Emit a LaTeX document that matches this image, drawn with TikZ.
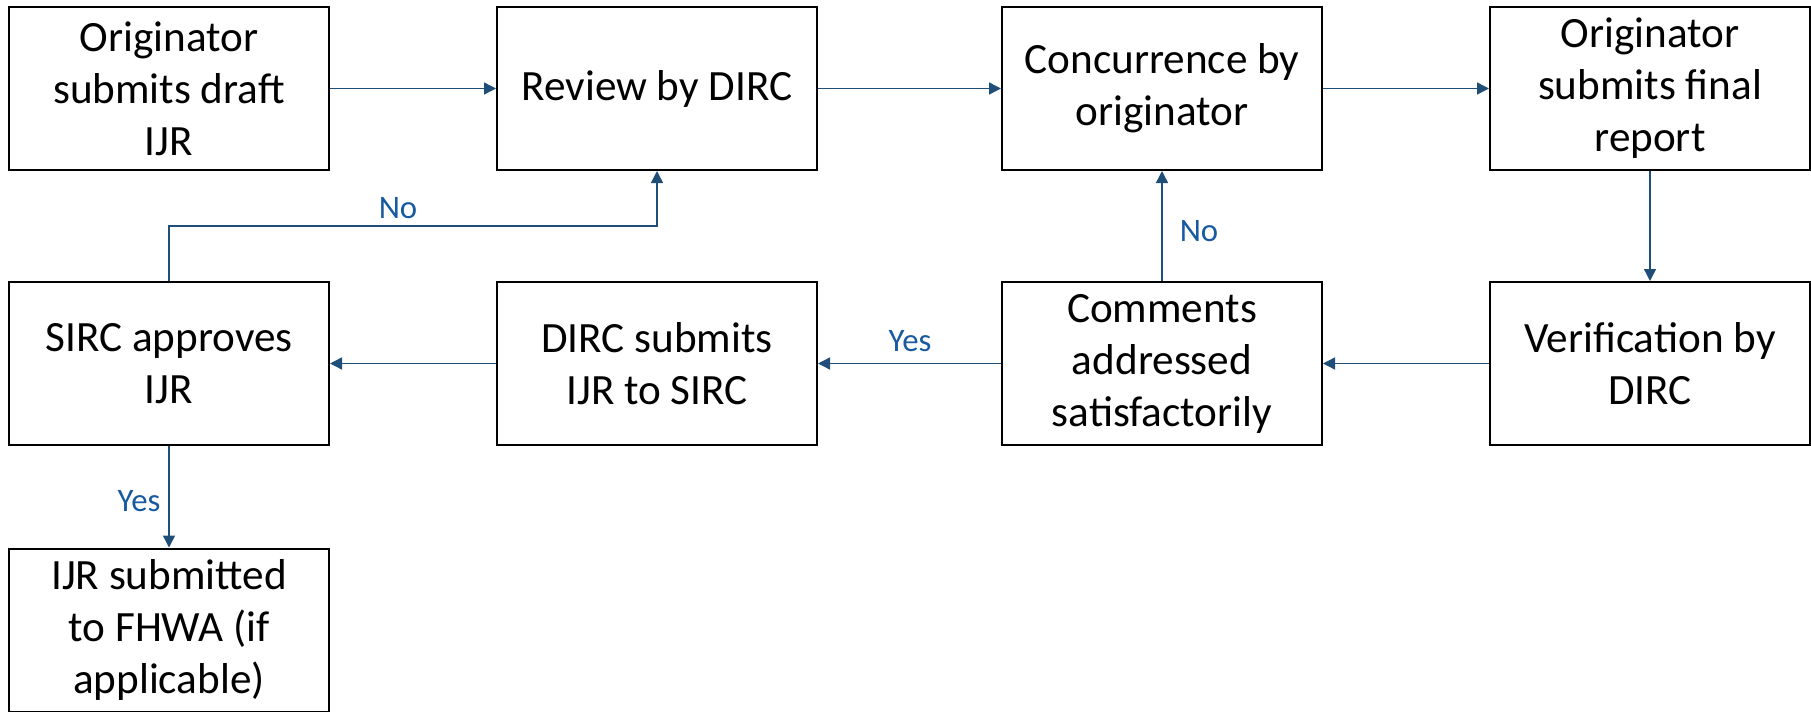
\documentclass[tikz,border=0pt]{standalone}
\usepackage{fontspec}
\setmainfont{Carlito}
\usetikzlibrary{arrows.meta}
\definecolor{linec}{RGB}{31,78,121}
\definecolor{labc}{RGB}{23,90,160}
\tikzset{
  box/.style={draw=black, line width=1pt, minimum width=160pt, minimum height=81.5pt,
    inner sep=0pt, align=center, font=\fontsize{21.6pt}{26pt}\selectfont},
  conn/.style={draw=linec, line width=0.7pt, -{Triangle[length=6pt,width=6pt]}},
  lab/.style={text=labc, font=\fontsize{16.4pt}{19pt}\selectfont, inner sep=1pt}
}
\begin{document}
\begin{tikzpicture}[x=0.5pt,y=-0.5pt]
\useasboundingbox (0,0) rectangle (1811,712);
\node[box] (b1) at (169,88.5) {Originator\\submits draft\\IJR};
\node[box] (b2) at (657,88.5) {Review by DIRC};
\node[box] (b3) at (1162,88.5) {Concurrence by\\originator};
\node[box] (b4) at (1650,88.5) {Originator\\submits final\\report};
\node[box] (b5) at (169,363.5) {SIRC approves\\IJR};
\node[box] (b6) at (657,363.5) {DIRC submits\\IJR to SIRC};
\node[box] (b7) at (1162,363.5) {Comments\\addressed\\satisfactorily};
\node[box] (b8) at (1650,363.5) {Verification by\\DIRC};
\node[box] (b9) at (169,630) {IJR submitted\\to FHWA (if\\applicable)};
\coordinate (c1) at (169,226);
\coordinate (c2) at (657,226);
\draw[conn] (b1) -- (b2);
\draw[conn] (b2) -- (b3);
\draw[conn] (b3) -- (b4);
\draw[conn] (b4) -- (b8);
\draw[conn] (b8) -- (b7);
\draw[conn] (b7) -- (b6);
\draw[conn] (b6) -- (b5);
\draw[conn] (b7) -- (b3);
\draw[conn] (b5) -- (b9);
\draw[conn] (b5.north) -- (c1) -- (c2) -- (b2.south);
\node[lab] (lno1) at (398,208) {No};
\node[lab] (lno2) at (1199,231) {No};
\node[lab] (lyes1) at (910,341) {Yes};
\node[lab] (lyes2) at (139,501) {Yes};
\end{tikzpicture}
\end{document}
